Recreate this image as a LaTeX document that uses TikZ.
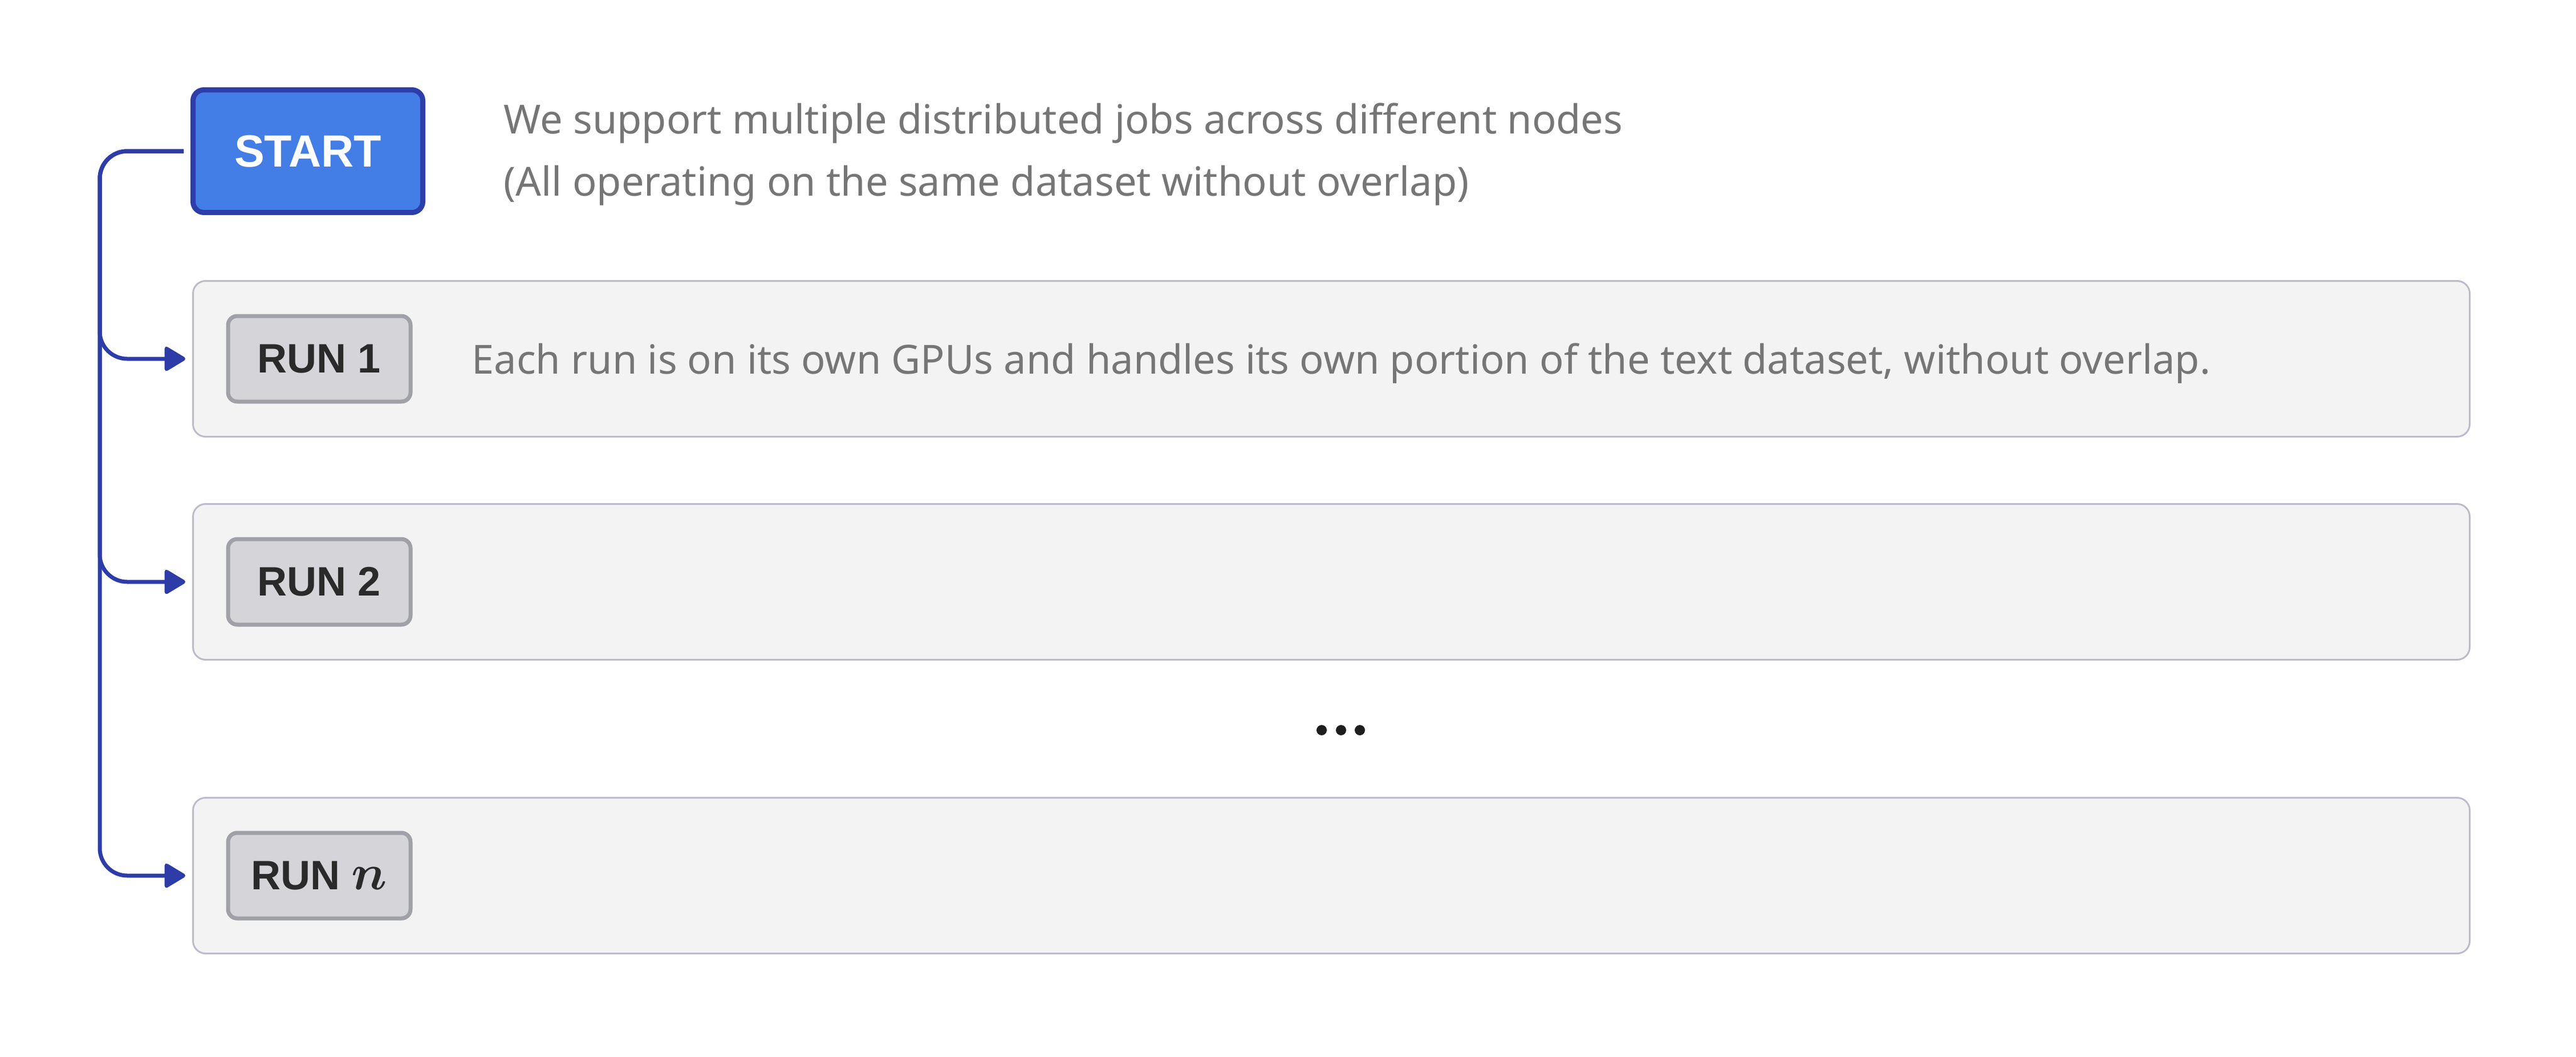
\documentclass[tikz,border=0pt]{standalone}
\usepackage{fontspec}
\setmainfont{Noto Sans}
\newfontfamily\labelfont{Liberation Sans}
\usetikzlibrary{arrows.meta}

\definecolor{startblue}{HTML}{437DE6}
\definecolor{startedge}{HTML}{2D3DA9}
\definecolor{connblue}{HTML}{2E3CA8}
\definecolor{lanefill}{HTML}{F3F3F3}
\definecolor{laneedge}{HTML}{BCBBCB}
\definecolor{tagfill}{HTML}{D4D4D9}
\definecolor{tagedge}{HTML}{A0A0A8}
\definecolor{tagtext}{HTML}{2A2A2A}
\definecolor{desctext}{HTML}{767676}
\definecolor{dotgray}{HTML}{1E1E1E}

\tikzset{
	startbox/.style={draw=startedge, fill=startblue, line width=0.09cm, rounded corners=0.19cm,
		minimum width=4.03cm, minimum height=2.15cm, text=white,
		font=\labelfont\fontsize{22.5}{27}\selectfont\bfseries},
	lane/.style={draw=laneedge, fill=lanefill, line width=0.03cm, rounded corners=0.22cm,
		minimum width=39.93cm, minimum height=2.73cm, inner sep=0pt},
	tag/.style={draw=tagedge, fill=tagfill, line width=0.07cm, rounded corners=0.16cm,
		minimum width=3.2cm, minimum height=1.5cm, text=tagtext,
		font=\labelfont\fontsize{20.5}{24}\selectfont\bfseries},
	desc/.style={text=desctext, inner sep=0pt, font=\fontsize{20}{31}\selectfont},
	conn/.style={draw=connblue, line width=0.07cm, rounded corners=0.48cm,
		-{Triangle[length=0.40cm,width=0.46cm,round]}, shorten >=0.12cm}
}

\begin{document}
\begin{tikzpicture}
		\useasboundingbox (0,0) rectangle (45.18,-18.52);

		\node[startbox] (start) at (5.40,-2.65) {START};
		\node[desc, anchor=west, align=left] (intro) at (8.83,-2.71)
			{We support multiple distributed jobs across different nodes\\(All operating on the same dataset without overlap)};

		\node[lane] (lane1) at (23.35,-6.29) {};
		\node[lane] (lane2) at (23.35,-10.20) {};
		\node[lane] (lane3) at (23.35,-15.35) {};

		\node[tag] (run1) at (5.60,-6.29) {RUN 1};
		\node[tag] (run2) at (5.60,-10.20) {RUN 2};
		\node[tag] (run3) at (5.60,-15.35) {RUN {\fontsize{27}{30}\selectfont\boldmath$n$}};

		\node[desc, anchor=base west] (note1) at (8.27,-6.55)
			{Each run is on its own GPUs and handles its own portion of the text dataset, without overlap.};

		\fill[dotgray] (23.18,-12.80) circle (0.09) (23.52,-12.80) circle (0.09) (23.85,-12.80) circle (0.09);

		\coordinate (startout) at ([xshift=-0.12cm]start.west);
		\coordinate (bend) at (1.75,-2.65);
		\draw[conn] (startout) -- (bend) |- (lane1.west);
		\draw[conn] (startout) -- (bend) |- (lane2.west);
		\draw[conn] (startout) -- (bend) |- (lane3.west);

	\end{tikzpicture}
\end{document}
